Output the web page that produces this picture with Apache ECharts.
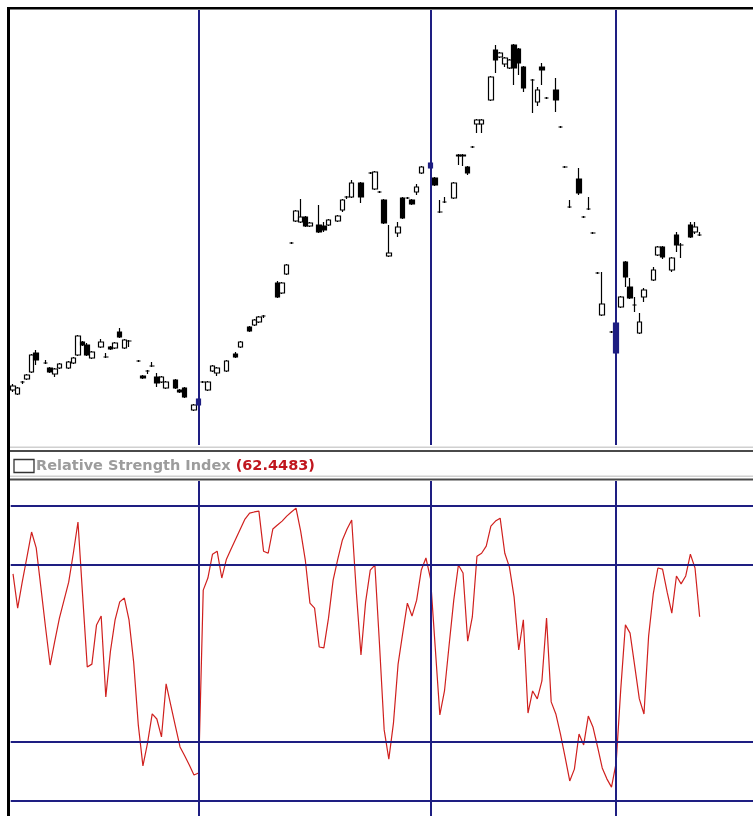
<!DOCTYPE html>
<html>
<head>
<meta charset="utf-8">
<script src="https://cdn.jsdelivr.net/npm/echarts@6/dist/echarts.min.js"></script>
<style>
  html, body { margin: 0; padding: 0; background: #fff; }
  #chart { width: 753px; height: 816px; }
</style>
</head>
<body>
<div id="chart"></div>
<script>
// one slot per trading day, some empty
const days = Array.from({ length: 160 }, (_, i) => 'd' + i)

// [open, close, low, high]; null = no candle drawn
const ohlc = [
  [30, 32, 29, 33], [28, 31, 27.5, 31.5], [34, 34, 33, 34.5], [35.5, 37.5, 35, 38], [39, 47.5, 38.5, 48],
  [48.5, 45, 42.5, 50], null, [43.5, 43.5, 43, 45], [41, 39, 38.5, 41.5], [38, 40.5, 36.5, 41],
  [41, 43, 40.5, 43.5], null, [41, 44, 40.5, 44.5], [43.5, 46, 43, 46.5], [47.5, 57, 47, 57.5],
  [54, 52.5, 52, 54.5], [52.5, 47.5, 47, 53.5], [46, 49, 45.5, 49.5], null, [51.5, 54, 51, 55.5],
  [46.5, 46.5, 46, 48.5], [51.5, 50.5, 50, 52], [51, 53.5, 50.5, 54], [59, 56.5, 56, 61], [51, 55, 50.5, 55.5],
  [54.5, 54.5, 51.5, 55], null, [44.5, 44.5, 44, 45], [37, 36, 35.5, 37.5], [39.5, 39.5, 38, 40],
  [42, 42, 41.5, 44], [36.5, 33.5, 31.5, 38.5], [34, 36.5, 33.5, 37], [31, 34, 30.5, 34.5], null,
  [35, 31, 30.5, 35.5], [30, 29, 28.5, 30.5], [31, 26.5, 26, 31.5], null, [20, 22.5, 19.5, 23],
  [25.5, 22.5, 22, 26], [34, 34, 33.5, 34.5], [30, 34, 29.5, 34.5], [39.5, 42, 39, 42.5], [38.5, 41, 37, 41.5],
  null, [39.5, 44.5, 39, 45], null, [48, 46.5, 46, 49], [51.5, 54, 51, 54.5],
  null, [61.5, 59.5, 59, 62], [62.5, 65, 62, 65.5], [64, 66.5, 63.5, 67], [67, 67, 66, 67.5],
  null, null, [83.5, 76.5, 76, 84.5], [78.5, 83.5, 78, 84], [88, 92.5, 87.5, 93],
  [103.5, 103.5, 103, 104], [114.5, 119.5, 114, 120], [114, 116.5, 113.5, 125.5], [116.5, 112, 111.5, 117], [112, 113.5, 111.5, 114],
  null, [112.5, 109, 108.5, 122.5], [112, 110, 109, 114], [112.5, 115, 112, 115.5], null,
  [114.5, 117, 114, 117.5], [120, 125, 119, 125.5], [126.5, 126.5, 125.5, 127], [126.5, 133.5, 126, 135], null,
  [133.5, 126.5, 123.5, 134], null, [138.5, 138.5, 138, 139], [130.5, 139, 130, 139.5], [129, 129, 128.5, 129.5],
  [125, 113.5, 113, 125.5], [97, 98.5, 96.5, 112.5], null, [108.5, 111.5, 106.5, 114], [126, 116, 115.5, 126.5],
  [126, 126, 125.5, 126.5], [125, 123, 122.5, 125.5], [129, 131.5, 127.5, 133], [138.5, 141.5, 138, 142], null,
  [143.5, 141, 140.5, 144], [136, 132.5, 132, 136.5], [119, 119, 118.5, 125], [124, 124, 123.5, 126.5], null,
  [126, 133.5, 125.5, 134], [147, 147.5, 142.5, 148], [147, 147.5, 142, 148], [141.5, 138.5, 137.5, 142], [151.5, 151.5, 151, 152],
  [163, 165, 158.5, 165.5], [163, 165, 158.5, 165.5], null, [175, 186.5, 174.5, 187], [200, 195, 188.5, 202.5],
  [196.5, 198.5, 196, 199], [193, 196, 191.5, 196.5], [191, 195, 190.5, 195.5], [202.5, 191, 182.5, 203], [200.5, 193.5, 187.5, 201],
  [191.5, 181, 179, 192], null, [185, 185, 168.5, 185.5], [174, 180, 172, 181.5], [191.5, 190, 182.5, 193.5],
  [176, 176, 175.5, 176.5], null, [180, 175, 169, 186], [161.5, 161.5, 161, 162], [141.5, 141.5, 141, 142],
  [121.5, 121.5, 121, 125], null, [135.5, 128.5, 127.5, 141], [116.5, 116.5, 116, 117], [120.5, 120.5, 120, 126.5],
  [108.5, 108.5, 108, 109], [88.5, 88.5, 88, 89], [67.5, 73, 67, 89], null, [59, 59, 58.5, 59.5],
  [63.5, 48.5, 48, 64], [71.5, 76.5, 71, 77], [94, 86.5, 81.5, 94.5], [81.5, 76, 75.5, 86], [72.5, 72.5, 69, 76.5],
  [58.5, 64, 58, 68.5], [76.5, 80, 74, 81], null, [85, 90, 84.5, 91.5], [97.5, 101.5, 97, 102],
  [101.5, 96.5, 95.5, 102], null, [90, 96, 89, 96.5], [107.5, 102.5, 99, 109], [102.5, 102.5, 96, 103.5],
  null, [112.5, 106.5, 106, 114], [109, 111.5, 108, 114], [107.5, 107.5, 107, 109]
]

const rsi = [
  77, 65.4, 74.4, 82.7, 91.2, 85.8, 72.5, 59, 46.1, 54.2,
  62, 68.1, 74.2, 84, 94.6, 69.8, 45.4, 46.4, 59.7, 62.7,
  35.3, 50.8, 61.4, 67.5, 68.8, 61.4, 47.1, 25.8, 11.9, 19.7,
  29.5, 27.8, 21.7, 39.7, 32.5, 25.4, 18.3, 15.3, 12.2, 8.8,
  9.5, 71.5, 75.6, 83.7, 84.7, 75.6, 82, 85.4, 88.8, 92.2,
  95.6, 97.6, 98, 98.3, 84.7, 84, 92.2, 93.6, 94.9, 96.6,
  98, 99.3, 91.5, 81.7, 67.1, 65.4, 52.2, 51.9, 62, 74.9,
  82, 88.5, 92.2, 95.3, 70.8, 49.5, 67.5, 78.3, 80, 52.9,
  24.1, 14.2, 26.4, 46.4, 56.9, 67.1, 62.7, 68.1, 78.3, 82.4,
  75.3, 52.2, 29.2, 37.3, 52.9, 68.1, 80, 77.3, 54.2, 62.4,
  83, 84, 86.4, 93.2, 94.9, 95.9, 84, 79.3, 69.2, 51.2,
  61.4, 29.8, 37.3, 34.6, 40.7, 62, 33.6, 29.5, 22.7, 14.9,
  6.8, 10.8, 22.7, 19, 28.8, 25.1, 18.3, 11.2, 7.5, 4.7,
  12.9, 38, 59.7, 56.9, 45.8, 34.6, 29.5, 55.9, 70.2, 79,
  78.6, 70.8, 63.7, 76.3, 73.6, 76.3, 83.7, 79, 62.4483
]

const dividers = [40, 90, 130]   // month boundary candles
const rsiLevels = [0, 20, 80, 100]

const NAVY = '#1e1e82'

const candleData = ohlc.map((v, i) => {
  if (!v) return '-'
  if (dividers.includes(i)) {
    return { value: v, itemStyle: { color: NAVY, color0: NAVY, borderColor: NAVY, borderColor0: NAVY } }
  }
  return v
})

const vLines = dividers.map(i => ({ xAxis: days[i] }))
const lastRsi = rsi[rsi.length - 1]

const chart = echarts.init(document.getElementById('chart'), null, { renderer: 'canvas' })

chart.setOption({
  animation: false,
  backgroundColor: '#ffffff',
  title: {
    text: '{name|Relative Strength Index} {val|(' + lastRsi.toFixed(4) + ')}',
    left: 36,
    top: 457,
    padding: 0,
    textStyle: {
      rich: {
        name: { color: '#9c9c9c', fontSize: 14.5, fontWeight: 'bold', fontFamily: 'DejaVu Sans' },
        val: { color: '#c0161e', fontSize: 14.5, fontWeight: 'bold', fontFamily: 'DejaVu Sans' },
      },
    },
  },
  graphic: [
    // frame
    { type: 'rect', shape: { x: 7, y: 7, width: 746, height: 2.5 }, style: { fill: '#000' } },
    { type: 'rect', shape: { x: 7, y: 7, width: 3, height: 809 }, style: { fill: '#000' } },
    // separator band between panes
    { type: 'rect', shape: { x: 10, y: 446.5, width: 743, height: 1.5 }, style: { fill: '#d0d0d0' } },
    { type: 'rect', shape: { x: 10, y: 450, width: 743, height: 2 }, style: { fill: '#4a4a4a' } },
    { type: 'rect', shape: { x: 10, y: 475.5, width: 743, height: 1.5 }, style: { fill: '#d0d0d0' } },
    { type: 'rect', shape: { x: 10, y: 478.5, width: 743, height: 2 }, style: { fill: '#4a4a4a' } },
    // legend box
    { type: 'rect', shape: { x: 14, y: 459.5, width: 20, height: 13 }, style: { fill: 'none', stroke: '#333', lineWidth: 1.3 } },
  ],
  grid: [
    { left: 10.7, right: 0, top: 10, bottom: 371 },
    { left: 10.7, right: 0, top: 481, bottom: 0 },
  ],
  xAxis: [
    { type: 'category', gridIndex: 0, data: days, boundaryGap: true, show: false },
    { type: 'category', gridIndex: 1, data: days, boundaryGap: true, show: false },
  ],
  yAxis: [
    { type: 'value', gridIndex: 0, min: 2.5, max: 220, show: false, splitLine: { show: false } },
    { type: 'value', gridIndex: 1, min: -5.1, max: 108.5, show: false, splitLine: { show: false } },
  ],
  series: [
    {
      type: 'candlestick',
      xAxisIndex: 0,
      yAxisIndex: 0,
      data: candleData,
      barWidth: 5,
      itemStyle: {
        color: '#ffffff',
        color0: '#000000',
        borderColor: '#000000',
        borderColor0: '#000000',
        borderWidth: 1.2,
      },
      markLine: {
        silent: true,
        symbol: 'none',
        label: { show: false },
        lineStyle: { color: NAVY, width: 2, type: 'solid' },
        data: vLines,
      },
    },
    {
      type: 'line',
      xAxisIndex: 1,
      yAxisIndex: 1,
      data: rsi,
      symbol: 'none',
      lineStyle: { color: '#d0201e', width: 1.2 },
      z: 3,
      markLine: {
        silent: true,
        symbol: 'none',
        label: { show: false },
        lineStyle: { color: NAVY, width: 2, type: 'solid' },
        data: vLines.concat(rsiLevels.map(v => ({ yAxis: v }))),
      },
    },
  ],
})
</script>
</body>
</html>
